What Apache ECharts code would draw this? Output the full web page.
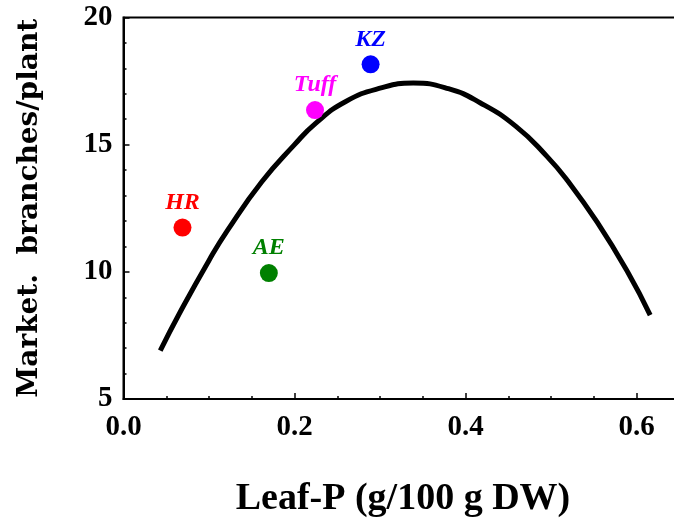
<!DOCTYPE html>
<html>
<head>
<meta charset="utf-8">
<script src="https://cdn.jsdelivr.net/npm/echarts@6/dist/echarts.min.js"></script>
<style>
  html, body { margin: 0; padding: 0; background: #fff; }
  #main { width: 674px; height: 521px; }
</style>
</head>
<body>
<div id="main"></div>
<script>
// cultivars (points)
var names = ['HR', 'AE', 'Tuff', 'KZ'];
var leafP = [0.069, 0.170, 0.224, 0.289];
var branches = [11.74, 9.95, 16.36, 18.16];
var colors = ['#ff0000', '#008000', '#ff00ff', '#0000ff'];

// fitted curve
var curveX = [0.043, 0.066, 0.10, 0.122, 0.162, 0.20, 0.225, 0.26, 0.30, 0.339, 0.38, 0.417, 0.459, 0.495, 0.519, 0.554, 0.59, 0.616];
var curveY = [6.9, 8.4, 10.45, 11.65, 13.55, 15.0, 15.85, 16.7, 17.22, 17.42, 17.2, 16.65, 15.72, 14.55, 13.6, 11.95, 9.97, 8.3];

var serif = 'Liberation Serif';

var myChart = echarts.init(document.getElementById('main'));

var pts = names.map(function (n, i) {
    return {
        name: n,
        value: [leafP[i], branches[i]],
        itemStyle: { color: colors[i], opacity: 1 },
        label: { color: colors[i] }
    };
});

var option = {
    animation: false,
    grid: {
        left: 123.5, top: 17.5, width: 684, height: 381.5,
        outerBoundsMode: 'none',
        containLabel: false,
        show: true, borderColor: '#000', borderWidth: 2
    },
    xAxis: {
        type: 'value',
        min: 0, max: 0.8, interval: 0.2,
        axisLine: { show: true, lineStyle: { color: '#000', width: 2 } },
        axisTick: { show: true, inside: true, length: 6, lineStyle: { color: '#000', width: 1.5 } },
        minorTick: { show: true, splitNumber: 4, length: 3, lineStyle: { color: '#000', width: 1.5 } },
        splitLine: { show: false },
        axisLabel: {
            margin: 14,
            color: '#000', fontFamily: serif, fontWeight: 'bold', fontSize: 29,
            formatter: function (v) { return v.toFixed(1); }
        }
    },
    yAxis: {
        type: 'value',
        min: 5, max: 20, interval: 5,
        axisLine: { show: true, lineStyle: { color: '#000', width: 2 } },
        axisTick: { show: true, inside: true, length: 6, lineStyle: { color: '#000', width: 1.5 } },
        minorTick: { show: true, splitNumber: 5, length: 3, lineStyle: { color: '#000', width: 1.5 } },
        splitLine: { show: false },
        axisLabel: {
            margin: 11,
            color: '#000', fontFamily: serif, fontWeight: 'bold', fontSize: 29
        },
        name: 'Market.  branches/plant',
        nameLocation: 'middle',
        nameGap: 80,
        nameTextStyle: { color: '#000', fontFamily: 'DejaVu Serif', fontWeight: 'bold', fontSize: 28 }
    },
    graphic: [{
        type: 'text',
        x: 403, y: 499,
        style: {
            text: 'Leaf-P (g/100 g DW)',
            fill: '#000',
            font: 'bold 38px "Liberation Serif"',
            textAlign: 'center',
            textVerticalAlign: 'middle'
        }
    }],
    series: [{
        type: 'line',
        data: curveX.map(function (x, i) { return [x, curveY[i]]; }),
        smooth: 0.5,
        symbol: 'none',
        lineStyle: { color: '#000', width: 5 },
        z: 2
    }, {
        type: 'scatter',
        data: pts,
        symbolSize: 18,
        z: 3,
        label: {
            show: true,
            position: 'top',
            distance: 4,
            formatter: '{b}',
            fontFamily: serif,
            fontStyle: 'italic',
            fontWeight: 'bold',
            fontSize: 24
        }
    }]
};

myChart.setOption(option);
</script>
</body>
</html>
